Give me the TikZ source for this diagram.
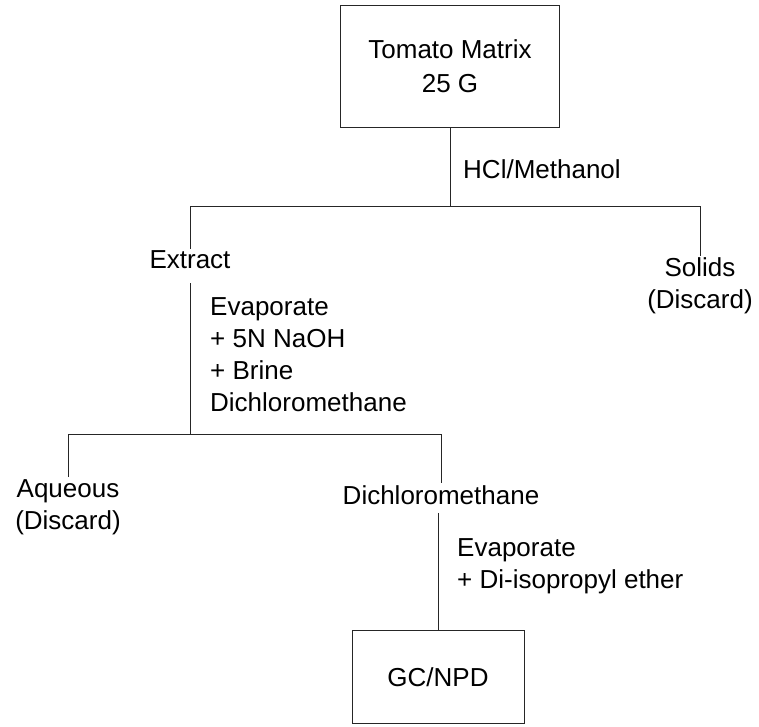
\documentclass[tikz,border=0pt]{standalone}
\usepackage{fontspec}
\setmainfont{Liberation Sans}
\usetikzlibrary{positioning}
\tikzset{
    font=\fontsize{26}{32}\selectfont, % text size of the scan
    link/.style={draw=black!85, line width=1pt},
    box/.style={draw=black!85, line width=1pt, align=center, inner sep=0pt},
    step_text/.style={align=left, anchor=north west, inner sep=0pt},
    result/.style={align=center, inner sep=2pt},
}

\begin{document}
\begin{tikzpicture}[x=1pt,y=-1pt]
  \useasboundingbox (0,0) rectangle (759,726);

  % Boxes
  \node[box, minimum width=219pt, minimum height=122pt] (tomato) at (450,66) {Tomato Matrix\\[2pt]25 G};
  \node[box, minimum width=172pt, minimum height=93pt] (gc) at (438,677) {GC/NPD};

  % Fractions
  \node[result] (extract) at (190,260) {Extract};
  \node[result] (solids)  at (700,286) {Solids\\(Discard)};
  \node[result] (aqueous) at (68,507)  {Aqueous\\(Discard)};
  \node[result] (dcm)     at (441,495) {Dichloromethane};

  % Step labels
  \node[step_text] (acid) at (463,159) {HCl/Methanol};
  \node[step_text] (wash) at (210,297) {Evaporate\\+ 5N NaOH\\+ Brine\\Dichloromethane};
  \node[step_text] (ether) at (457,538) {Evaporate\\+ Di-isopropyl ether};

  \coordinate (bar_1) at (0,206);
  \coordinate (bar_2) at (0,434);

  \draw[link] (tomato.south) -- (tomato.south |- bar_1);
  \draw[link] (extract.north) -- (extract.north |- bar_1) -- (solids.north |- bar_1) -- (solids.north);
  \draw[link, shorten <=12pt] (extract.south) -- (extract.south |- bar_2);
  \draw[link] (aqueous.north) -- (aqueous.north |- bar_2) -- (dcm.north |- bar_2) -- (dcm.north);
  \draw[link, shorten <=6pt] (gc.north |- dcm.south) -- (gc.north);
\end{tikzpicture}
\end{document}
